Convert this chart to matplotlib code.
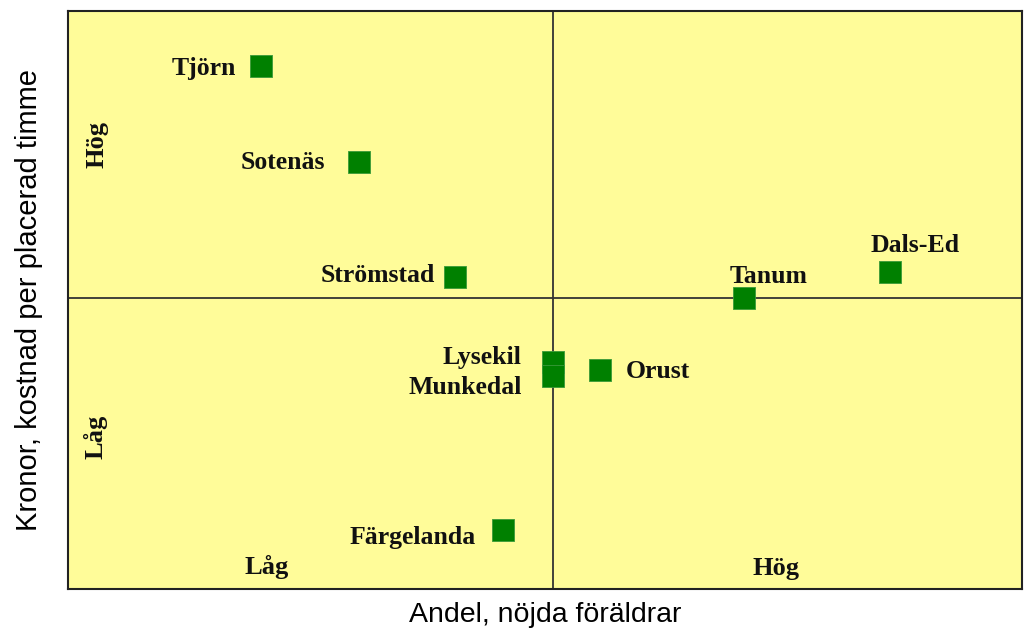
import matplotlib.pyplot as plt

# Kommuner och värden (andel nöjda föräldrar, kostnad per placerad timme), relativa enheter
kommuner = ["Tjörn", "Sotenäs", "Strömstad", "Dals-Ed", "Tanum",
            "Lysekil", "Munkedal", "Orust", "Färgelanda"]
andel = [20.2, 30.5, 40.6, 86.2, 70.9, 50.8, 50.8, 55.8, 45.6]
kostnad = [90.5, 73.9, 54.0, 54.8, 50.3, 39.3, 36.9, 37.9, 10.2]
mitt_x = 50.8
mitt_y = 50.3

# label placement, pixel offsets from the marker
label_pos = {
    "Tjörn": (-25, -3, "right"),
    "Sotenäs": (-34, -1, "right"),
    "Strömstad": (-20, 1, "right"),
    "Dals-Ed": (25, 27, "center"),
    "Tanum": (24, 22, "center"),
    "Lysekil": (-31, 4, "right"),
    "Munkedal": (-31, -12, "right"),
    "Orust": (25, -2, "left"),
    "Färgelanda": (-27, -7, "right"),
}

W, H = 1024, 633
fig = plt.figure(figsize=(W / 100, H / 100), dpi=100)
ax = fig.add_axes([68 / W, (H - 589) / H, 954 / W, 578 / H])
ax.set_facecolor("#FFFC99")
ax.set_xlim(0, 100)
ax.set_ylim(0, 100)
ax.set_xticks([])
ax.set_yticks([])
for s in ax.spines.values():
    s.set_linewidth(1.5)
    s.set_color("#222222")

ax.axvline(mitt_x, color="#333333", lw=1.3, zorder=1)
ax.axhline(mitt_y, color="#333333", lw=1.3, zorder=1)

ax.scatter(andel, kostnad, marker="s", s=250, color="#008000",
           edgecolors="#3a9a3a", linewidths=0.6, zorder=3)

serif = dict(family="Liberation Serif", weight="bold", color="#111111")
for k, x, y in zip(kommuner, andel, kostnad):
    dx, dy, ha = label_pos[k]
    ax.annotate(k, (x, y), xytext=(dx, dy), textcoords="offset pixels",
                ha=ha, va="center", fontsize=18.5, **serif)

# quadrant labels
ax.text(29 / 954, 1 - (145 - 11) / 578, "Hög", transform=ax.transAxes,
        rotation=90, ha="center", va="center", fontsize=19, **serif)
ax.text(27 / 954, 1 - (437 - 11) / 578, "Låg", transform=ax.transAxes,
        rotation=90, ha="center", va="center", fontsize=19, **serif)
ax.text((267 - 68) / 954, 1 - (567 - 11) / 578, "Låg", transform=ax.transAxes,
        ha="center", va="center", fontsize=19, **serif)
ax.text((776 - 68) / 954, 1 - (569 - 11) / 578, "Hög", transform=ax.transAxes,
        ha="center", va="center", fontsize=19, **serif)

ax.set_xlabel("Andel, nöjda föräldrar", fontsize=20.5, family="Liberation Sans",
              labelpad=9)
ax.set_ylabel("Kronor, kostnad per placerad timme", fontsize=21,
              family="Liberation Sans", labelpad=18)

fig.savefig("out.png", dpi=100, facecolor="white")
